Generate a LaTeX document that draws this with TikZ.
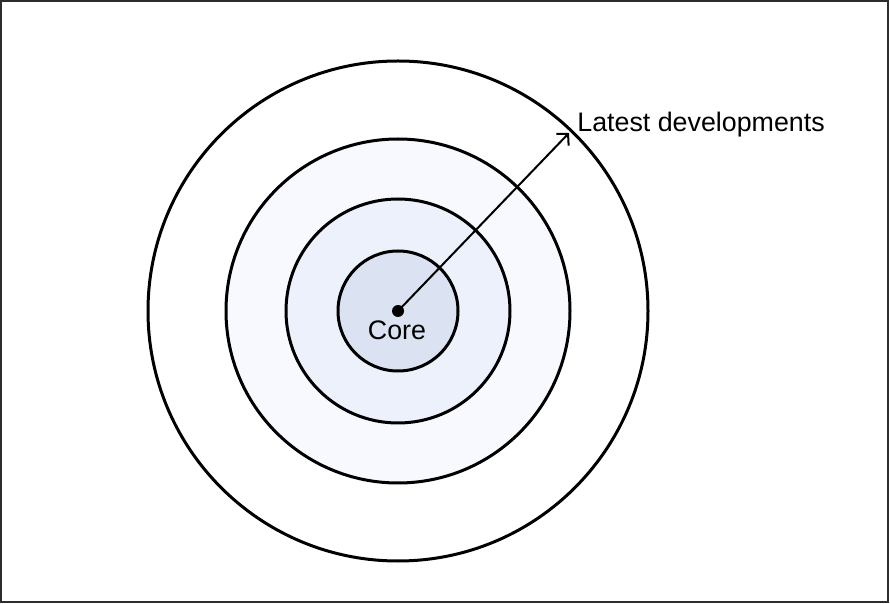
\documentclass[tikz,border=0pt]{standalone}
\usepackage{fontspec}
\setmainfont{Liberation Sans}
\usetikzlibrary{positioning, arrows.meta}
\definecolor{ringtwo}{RGB}{247,249,254}
\definecolor{ringthree}{RGB}{236,241,252}
\definecolor{corefill}{RGB}{219,227,243}
\definecolor{framegray}{RGB}{45,45,45}
\tikzset{ring/.style={draw, circle, line width=1.5pt, inner sep=0pt}}

\begin{document}
\begin{tikzpicture}[x=0.5pt, y=-0.5pt, font=\fontsize{13.4}{16}\selectfont]
    % frame round the whole picture
    \useasboundingbox (0,0) rectangle (890,604);
    \draw[framegray, line width=0.9pt] (1,1) rectangle (888,602);
    % rings from outside to inside
    \node[ring, fill=white, minimum size=250pt] (outer) at (398,311) {};
    \node[ring, fill=ringtwo, minimum size=172pt] (second) at (398,311) {};
    \node[ring, fill=ringthree, minimum size=112pt] (third) at (398,311) {};
    \node[ring, fill=corefill, minimum size=60pt] (core) at (398,311) {};
    % centre dot and label
    \node[circle, fill=black, inner sep=0pt, minimum size=6pt] (dot) at (core.center) {};
    \node (corelabel) at (397,330) {Core};
    % label on the right and arrow to it
    \node[anchor=base west, inner sep=0pt] (latest) at (577,132) {Latest developments};
    \coordinate (tip) at (569,133);
    \draw[-{Straight Barb[length=4pt, width=8.5pt]}, line width=1pt] (dot.center) -- (tip);
\end{tikzpicture}
\end{document}
